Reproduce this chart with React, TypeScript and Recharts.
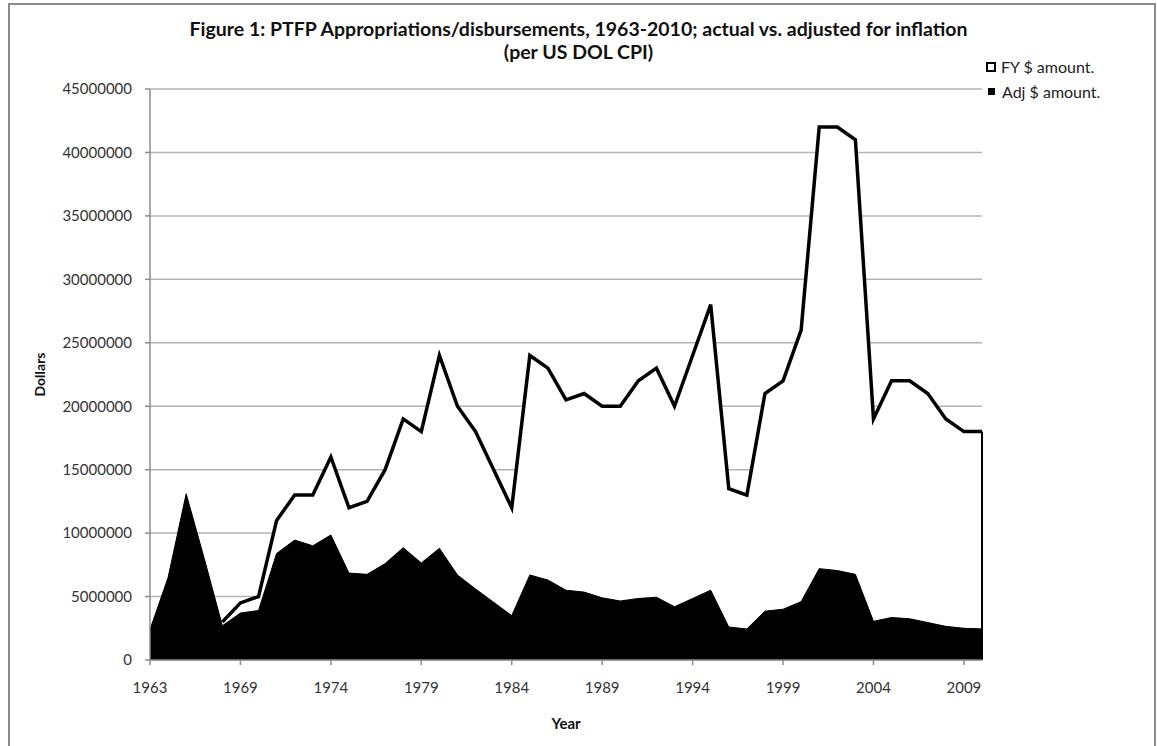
import { AreaChart, Area, XAxis, YAxis, CartesianGrid, ReferenceLine, Label } from 'recharts'

// years on the category axis (1964 has no entry in the source sheet)
const years = [
  1963, 1965, 1966, 1967, 1968, 1969, 1970, 1971, 1972, 1973,
  1974, 1975, 1976, 1977, 1978, 1979, 1980, 1981, 1982, 1983,
  1984, 1985, 1986, 1987, 1988, 1989, 1990, 1991, 1992, 1993,
  1994, 1995, 1996, 1997, 1998, 1999, 2000, 2001, 2002, 2003,
  2004, 2005, 2006, 2007, 2008, 2009, 2010,
]

// FY $ amount (no figures before 1968)
const fyAmount = [
  null, null, null, null, 3000000, 4500000, 5000000, 11000000, 13000000, 13000000,
  16000000, 12000000, 12500000, 15000000, 19000000, 18000000, 24000000, 20000000, 18000000, 15000000,
  12000000, 24000000, 23000000, 20500000, 21000000, 20000000, 20000000, 22000000, 23000000, 20000000,
  24000000, 28000000, 13500000, 13000000, 21000000, 22000000, 26000000, 42000000, 42000000, 41000000,
  19000000, 22000000, 22000000, 21000000, 19000000, 18000000, 18000000,
]

// Adj $ amount
const adjAmount = [
  2400000, 6500000, 13100000, 8000000, 2700000, 3700000, 3900000, 8400000, 9450000, 9000000,
  9850000, 6850000, 6750000, 7600000, 8850000, 7650000, 8800000, 6700000, 5600000, 4550000,
  3500000, 6700000, 6300000, 5500000, 5350000, 4900000, 4650000, 4850000, 4950000, 4200000,
  4850000, 5500000, 2600000, 2450000, 3850000, 4000000, 4600000, 7200000, 7050000, 6750000,
  3050000, 3350000, 3250000, 2950000, 2650000, 2500000, 2450000,
]

const yTicks = [0, 5000000, 10000000, 15000000, 20000000, 25000000, 30000000, 35000000, 40000000, 45000000]

const data = years.map((y, i) => ({ year: String(y), fy: fyAmount[i], adj: adjAmount[i] }))

const FONT = 'Lato, "Open Sans", sans-serif'

function LegendBox() {
  return (
    <div style={{ position: 'absolute', left: 986, top: 54, fontFamily: FONT, fontSize: 16, color: '#222', lineHeight: '25px' }}>
      <div style={{ display: 'flex', alignItems: 'center' }}>
        <span style={{ width: 6, height: 6, border: '2px solid #000', background: '#fff', marginRight: 5 }} />
        FY $ amount.
      </div>
      <div style={{ display: 'flex', alignItems: 'center' }}>
        <span style={{ width: 7, height: 7, background: '#000', marginLeft: 2, marginRight: 7 }} />
        Adj $ amount.
      </div>
    </div>
  )
}

export default function App() {
  const last = data[data.length - 1]
  return (
    <div style={{ position: 'absolute', left: 0, top: 0, width: 1157, height: 746, background: '#fff', overflow: 'hidden' }}>
      <div style={{ position: 'absolute', left: 8, top: 3, width: 1144, height: 800, border: '2px solid #8c8c8c' }} />
      <div style={{ position: 'absolute', left: 0, top: 17, width: 1157, textAlign: 'center', fontFamily: FONT, fontWeight: 700, fontSize: 19.5, lineHeight: '23px', color: '#111' }}>
        Figure 1: PTFP Appropriations/disbursements, 1963-2010; actual vs. adjusted for inflation
        <br />
        (per US DOL CPI)
      </div>
      <div style={{ position: 'absolute', left: 0, top: 0 }}>
        <AreaChart width={1157} height={746} data={data} margin={{ top: 89, right: 175, bottom: 56, left: 0 }}>
          <CartesianGrid vertical={false} stroke="#b3b3b3" strokeWidth={1.5} />
          <XAxis
            dataKey="year"
            interval={4}
            height={30}
            tickSize={5}
            tickMargin={17}
            axisLine={{ stroke: '#8c8c8c', strokeWidth: 1.5 }}
            tickLine={{ stroke: '#8c8c8c', strokeWidth: 1.5 }}
            tick={{ fill: '#333', fontSize: 15, fontFamily: FONT }}
          >
            <Label value="Year" position="insideBottom" offset={-39} style={{ fill: '#111', fontSize: 15, fontWeight: 700, fontFamily: FONT }} />
          </XAxis>
          <YAxis
            width={150}
            domain={[0, 45000000]}
            ticks={yTicks}
            interval={0}
            tickSize={5}
            tickMargin={13}
            axisLine={{ stroke: '#8c8c8c', strokeWidth: 1.5 }}
            tickLine={{ stroke: '#8c8c8c', strokeWidth: 1.5 }}
            tick={{ fill: '#333', fontSize: 15, fontFamily: FONT }}
          >
            <Label value="Dollars" angle={-90} position="insideLeft" offset={40} style={{ fill: '#111', fontSize: 14, fontWeight: 700, fontFamily: FONT, textAnchor: 'middle' }} />
          </YAxis>
          <Area
            type="linear"
            dataKey="fy"
            name="FY $ amount."
            stroke="#000"
            strokeWidth={3.5}
            strokeLinejoin="miter"
            fill="#fff"
            fillOpacity={1}
            isAnimationActive={false}
          />
          <ReferenceLine
            segment={[{ x: last.year, y: 0 }, { x: last.year, y: last.fy }]}
            stroke="#000"
            strokeWidth={2}
          />
          <Area
            type="linear"
            dataKey="adj"
            name="Adj $ amount."
            stroke="#000"
            strokeWidth={1}
            fill="#000"
            fillOpacity={1}
            isAnimationActive={false}
          />
        </AreaChart>
      </div>
      <LegendBox />
    </div>
  )
}
